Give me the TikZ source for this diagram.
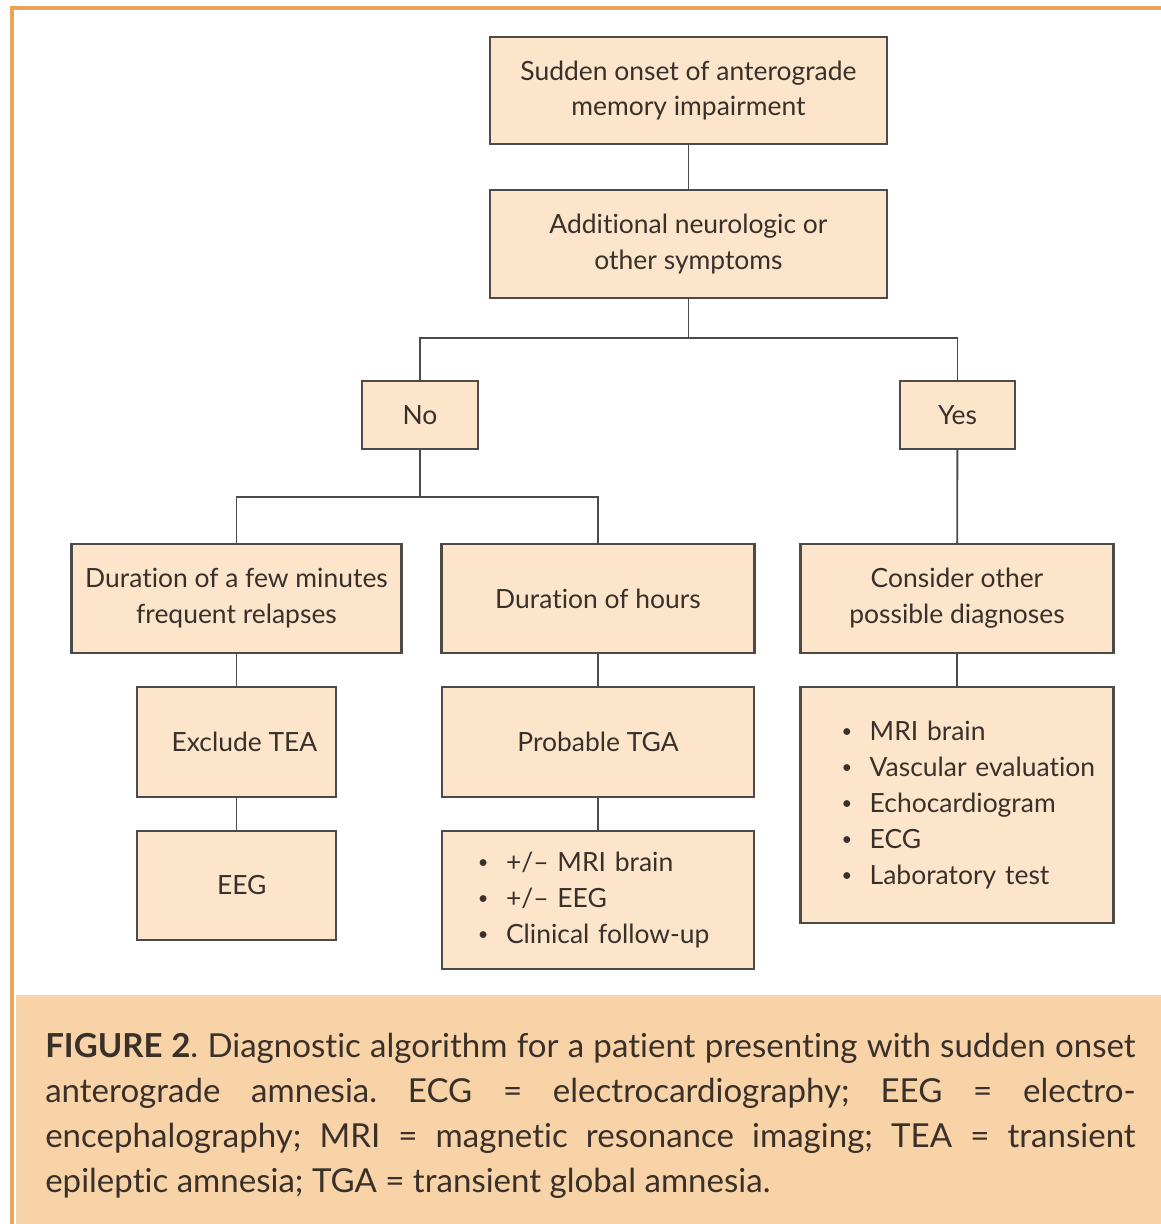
\documentclass[tikz,border=0pt]{standalone}
\usepackage{fontspec}
\setmainfont{Lato}[Ligatures=NoCommon]
\usepackage{xcolor}
\usetikzlibrary{positioning,calc}
\definecolor{ink}{HTML}{3A302A}
\definecolor{boxLine}{HTML}{4D4A48}
\definecolor{boxFill}{HTML}{FCE5CB}
\definecolor{capFill}{HTML}{F9D3A8}
\definecolor{frameLine}{HTML}{EBA35A}
\tikzset{
  every node/.append style = {text=ink},
  % --- flowchart boxes ----------------------------------------------------
  stepbox/.style  = {draw=boxLine, fill=boxFill, line width=1.6pt,
                     align=center, inner sep=0pt,
                     font=\fontsize{18.8}{25.5}\selectfont},
  listbox/.style  = {stepbox, align=left},
  % --- connectors ---------------------------------------------------------
  link/.style     = {draw=boxLine, line width=1.3pt},
  % --- caption ------------------------------------------------------------
  caption/.style  = {inner sep=0pt, align=justify,
                     font=\fontsize{23.5}{32}\selectfont\frenchspacing},
}
\newcommand{\itm}[1]{\mbox{\raisebox{0.12em}{\fontsize{13}{13}\selectfont\textbullet}\hspace{0.66em}#1}}

\begin{document}
\begin{tikzpicture}[x=0.025cm, y=-0.025cm]
\useasboundingbox (0,0) rectangle (1161,1224);

% ==================== frame and caption panel ==============================
\fill[capFill] (16,995) rectangle (1161,1224);
\draw[frameLine, line width=3.5pt] (12,1224) -- (12,8) -- (1161,8);

% ==================== decision tree =========================================
\node[stepbox, minimum width=9.925cm, minimum height=2.675cm] (onset) at (688.5,90.5)
     {Sudden onset of anterograde\\ memory impairment};
\node[stepbox, minimum width=9.925cm, minimum height=2.7cm] (symp) at (688.5,244)
     {Additional neurologic or\\ other symptoms};

\node[stepbox, minimum width=2.9cm, minimum height=1.7cm] (no) at (420,415) {No};
\node[stepbox, minimum width=2.875cm, minimum height=1.7cm] (yes) at (957.5,415) {Yes};

\node[stepbox, minimum width=8.25cm, minimum height=2.725cm] (fewmin) at (236.5,598.5)
     {Duration of a few minutes\\ frequent relapses};
\node[stepbox, minimum width=7.825cm, minimum height=2.725cm] (hours) at (598,598.5)
     {Duration of hours};
\node[stepbox, minimum width=7.825cm, minimum height=2.725cm] (other) at (957,598.5)
     {Consider other\\ possible diagnoses};

\node[stepbox, minimum width=4.975cm, minimum height=2.75cm] (tea) at (236.5,742)
     {\hspace{0.6em}Exclude TEA};
\node[stepbox, minimum width=4.975cm, minimum height=2.725cm] (eeg) at (236.5,885.5)
     {\hspace{0.4em}EEG};
\node[stepbox, minimum width=7.8cm, minimum height=2.75cm] (tga) at (598,742)
     {Probable TGA};
% bullet lists: text width + inner xsep fix the left edge of the bullets
\node[listbox, inner xsep=0.9cm, text width=6cm, minimum height=3.45cm]
     (followup) at (598,900)
     {\itm{+/-- MRI brain}\\ \itm{+/-- EEG}\\ \itm{Clinical follow-up}};
\node[listbox, inner xsep=1.03cm, text width=5.765cm, minimum height=5.9cm]
     (tests) at (957,805)
     {\itm{MRI brain}\\ \itm{Vascular evaluation}\\ \itm{Echocardiogram}\\
      \itm{ECG}\\ \itm{Laboratory test}};

% branch points
\coordinate (splitA) at (688.5,338);
\coordinate (splitB) at (420,497);

\draw[link] (onset) -- (symp);
\draw[link] (symp) -- (splitA) -| (no);
\draw[link] (splitA) -| (yes);
\draw[link] (no) -- (splitB) -| (fewmin);
\draw[link] (splitB) -| (hours);
\draw[link] (yes) -- (other);
\draw[link] (fewmin) -- (tea);
\draw[link] (tea) -- (eeg);
\draw[link] (hours) -- (tga);
\draw[link] (tga) -- (followup);
\draw[link] (other) -- (tests);

% ==================== caption text ==========================================
\node[caption, anchor=base west, text width=27.25cm] (cap) at (45,1057)
     {\textbf{FIGURE 2}. Diagnostic algorithm for a patient presenting with sudden onset
      \linebreak anterograde amnesia. ECG = electrocardiography; EEG = electro-\linebreak
      encephalography; MRI = magnetic resonance imaging; TEA = transient
      \linebreak epileptic amnesia; TGA = transient global amnesia.};

\end{tikzpicture}
\end{document}
